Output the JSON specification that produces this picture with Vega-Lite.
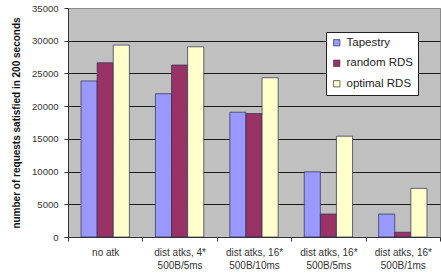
{
  "$schema": "https://vega.github.io/schema/vega-lite/v6.json",
  "autosize": "none",
  "width": 372,
  "height": 229,
  "padding": {"left": 68, "top": 8, "right": 1, "bottom": 40},
  "background": "white",
  "config": {
    "view": {"fill": "#C0C0C0", "stroke": "#8a8a8a", "strokeWidth": 1},
    "font": "Liberation Sans"
  },
  "data": {
    "values": [
      {"scenario": "no atk", "system": "Tapestry", "requests": 23850},
      {"scenario": "no atk", "system": "random RDS", "requests": 26630},
      {"scenario": "no atk", "system": "optimal RDS", "requests": 29330},
      {"scenario": "dist atks, 4*|500B/5ms", "system": "Tapestry", "requests": 21900},
      {"scenario": "dist atks, 4*|500B/5ms", "system": "random RDS", "requests": 26280},
      {"scenario": "dist atks, 4*|500B/5ms", "system": "optimal RDS", "requests": 29070},
      {"scenario": "dist atks, 16*|500B/10ms", "system": "Tapestry", "requests": 19070},
      {"scenario": "dist atks, 16*|500B/10ms", "system": "random RDS", "requests": 18870},
      {"scenario": "dist atks, 16*|500B/10ms", "system": "optimal RDS", "requests": 24340},
      {"scenario": "dist atks, 16*|500B/5ms", "system": "Tapestry", "requests": 9970},
      {"scenario": "dist atks, 16*|500B/5ms", "system": "random RDS", "requests": 3510},
      {"scenario": "dist atks, 16*|500B/5ms", "system": "optimal RDS", "requests": 15410},
      {"scenario": "dist atks, 16*|500B/1ms", "system": "Tapestry", "requests": 3510},
      {"scenario": "dist atks, 16*|500B/1ms", "system": "random RDS", "requests": 730},
      {"scenario": "dist atks, 16*|500B/1ms", "system": "optimal RDS", "requests": 7430}
    ]
  },
  "mark": {"type": "bar", "stroke": "#2b2b55", "strokeWidth": 0.7},
  "encoding": {
    "x": {
      "field": "scenario",
      "type": "nominal",
      "sort": null,
      "scale": {"paddingInner": 0, "paddingOuter": 0},
      "axis": {
        "title": null,
        "labelAngle": 0,
        "labelExpr": "split(datum.label, '|')",
        "labelFontSize": 10,
        "labelColor": "#333333",
        "labelLineHeight": 13,
        "labelPadding": 6,
        "tickBand": "extent",
        "tickColor": "#333333",
        "tickSize": 4,
        "domainColor": "#333333",
        "grid": false
      }
    },
    "xOffset": {
      "field": "system",
      "type": "nominal",
      "sort": ["Tapestry", "random RDS", "optimal RDS"],
      "scale": {"paddingInner": 0, "paddingOuter": 0.81}
    },
    "y": {
      "field": "requests",
      "type": "quantitative",
      "scale": {"domain": [0, 35000], "nice": false},
      "axis": {
        "title": "number of requests satisfied in 200 seconds",
        "titleFontSize": 10,
        "titleFontWeight": "bold",
        "titleColor": "#111111",
        "titlePadding": 10,
        "values": [0, 5000, 10000, 15000, 20000, 25000, 30000, 35000],
        "format": "d",
        "labelFontSize": 9.5,
        "labelColor": "#333333",
        "labelPadding": 6,
        "tickColor": "#333333",
        "tickSize": 4,
        "domainColor": "#333333",
        "grid": true,
        "gridColor": {"condition": {"test": "datum.value === 35000 || datum.value === 0", "value": "#8a8a8a"}, "value": "#1a1a1a"},
        "gridWidth": 1
      }
    },
    "color": {
      "field": "system",
      "type": "nominal",
      "sort": ["Tapestry", "random RDS", "optimal RDS"],
      "scale": {
        "domain": ["Tapestry", "random RDS", "optimal RDS"],
        "range": ["#9999FF", "#993366", "#FFFFCC"]
      },
      "legend": {
        "title": null,
        "orient": "none",
        "legendX": 258,
        "legendY": 24,
        "fillColor": "white",
        "strokeColor": "#222222",
        "padding": 5,
        "labelFontSize": 11.5,
        "labelColor": "#222222",
        "labelOffset": 4,
        "symbolType": "square",
        "symbolSize": 40,
        "symbolStrokeColor": "#333333",
        "symbolStrokeWidth": 0.7,
        "rowPadding": 7.5
      }
    }
  }
}
